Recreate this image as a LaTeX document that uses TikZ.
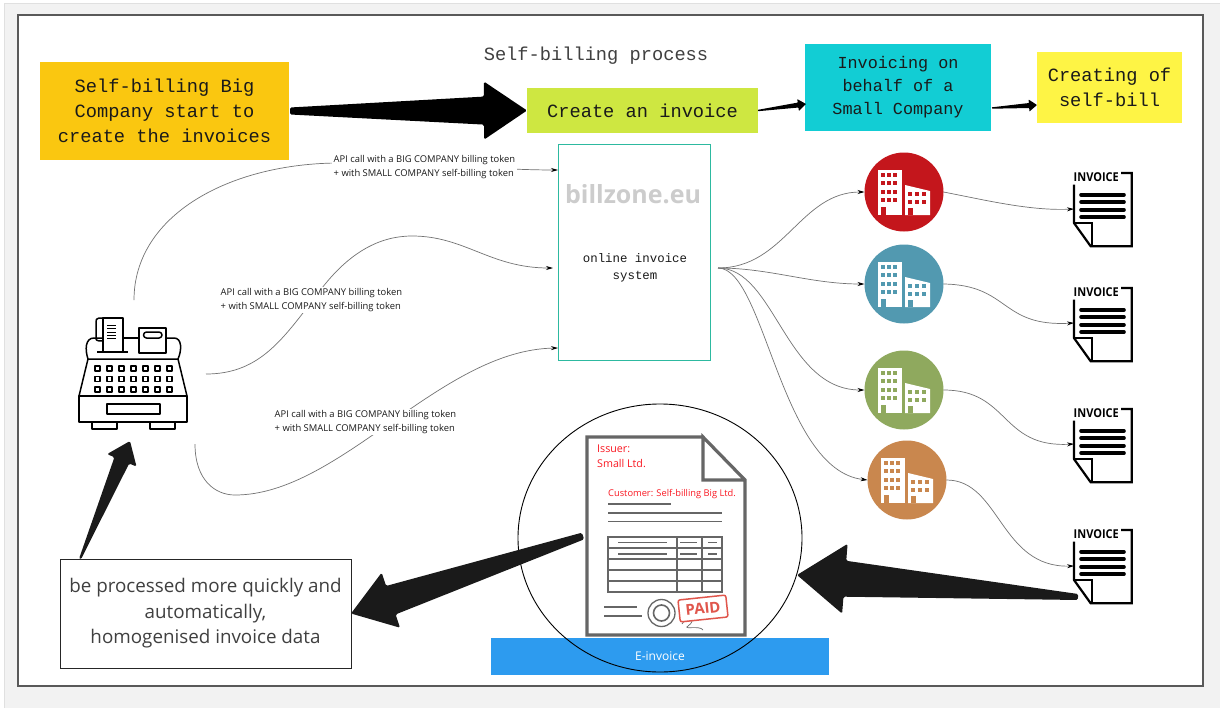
\documentclass[tikz,border=0pt]{standalone}
\usepackage{fontspec}
\setmainfont{Open Sans}
\setmonofont{Liberation Mono}
\usetikzlibrary{arrows.meta,calc,shapes.geometric}
\definecolor{inkc}{HTML}{1A1A1A}
\definecolor{docgray}{HTML}{666666}
\definecolor{stampred}{HTML}{E0564C}
\tikzset{
  x=1pt,y=-1pt,
  sticky/.style={rectangle,inner sep=0pt,outer sep=0pt,align=center,text=inkc,font=\ttfamily\fontsize{18.7}{25}\selectfont},
  conn/.style={draw=black!55,line width=0.7pt,-{Stealth[length=7pt,width=4pt,black]}},
  apilabel/.style={fill=white,inner sep=1.5pt,align=left,anchor=west,text=inkc,font=\fontsize{9.4}{14}\selectfont},
  docline/.style={draw=docgray,line width=1.6pt},
  ico/.style={draw=black,line width=1.5pt,line join=round},
  hidden/.style={rectangle,inner sep=0pt,outer sep=0pt},
}
\newcommand\taperarrow[7][black]{%
  \coordinate (ta) at #2; \coordinate (tb) at #3;
  \coordinate (tn) at ($(tb)!#7pt!(ta)$);
  \fill[rounded corners=1.5pt,#1] ($(ta)!#4pt!90:(tb)$) -- ($(tn)!#5pt!90:(tb)$) -- ($(tn)!#6pt!90:(tb)$) -- (tb) -- ($(tn)!#6pt!-90:(tb)$) -- ($(tn)!#5pt!-90:(tb)$) -- ($(ta)!#4pt!-90:(tb)$) -- cycle;}
\newcommand\company[4]{%
  \definecolor{bc#1}{HTML}{#4}
  \node[circle,fill=bc#1,minimum size=79pt,inner sep=0pt,outer sep=0pt] (#1) at (#2,#3) {};
  \begin{scope}[shift={(#2,#3)}]
    \fill[white] (-26,-22) rectangle (-2,23);
    \fill[white] (1,-7) -- (26,-1) -- (26,23) -- (1,23) -- cycle;
    \foreach \wx in {-23,-17,-11} \foreach \wy in {-19,-11,-2,6} \fill[bc#1] (\wx,\wy) rectangle ++(4,4);
    \foreach \wx in {4,11,18} \foreach \wy in {0,8} \fill[bc#1] (\wx,\wy) rectangle ++(4,4);
    \fill[bc#1] (-23,15) rectangle (-18,23);
    \fill[bc#1] (4,16) rectangle (9,23);
  \end{scope}}
\newcommand\invoicemark[3]{%
  \node[hidden,minimum width=60pt,minimum height=74pt,anchor=north west] (#1) at (#2,#3) {};
  \begin{scope}[shift={(#2,#3)}]
    \draw[black,line width=2.2pt,line join=miter] (47,0) -- (57.7,0) -- (57.7,73.3) -- (16.7,73.3) -- (0,50) -- (0,11.7);
    \draw[black,line width=2.2pt] (0,50) -- (17.7,50) -- (17.7,73.3);
    \foreach \ly in {21.7,29,36.7,44} \draw[black,line width=3.6pt,line cap=round] (7,\ly) -- (50,\ly);
    \node[inner sep=0pt,anchor=west,text=black,font=\bfseries\fontsize{12.2}{14}\selectfont,xscale=.9] at (-.5,4.5) {INVOICE};
  \end{scope}}
\begin{document}
\begin{tikzpicture}
\useasboundingbox (0,0) rectangle (1220,707);
\fill[white] (0,0) rectangle (1220,707);
\filldraw[fill=black!5,draw=black!12,line width=1pt] (4,3) rectangle (1224,712);
\filldraw[fill=white,draw=black!65,line width=1.2pt] (18,15) rectangle (1203,686);

% top row
\node[sticky,text=black!75,font=\ttfamily\fontsize{18.7}{25}\selectfont] (title) at (596,55.5) {Self-billing process};
\node[sticky,fill={rgb,255:red,250;green,199;blue,16},minimum width=249pt,minimum height=98pt] (start) at (164.5,111) {Self-billing Big\\Company start to\\create the invoices};
\node[sticky,fill={rgb,255:red,206;green,231;blue,65},minimum width=231pt,minimum height=45pt] (create) at (642.5,110.5) {Create an invoice};
\node[sticky,fill={rgb,255:red,18;green,205;blue,212},minimum width=186pt,minimum height=87pt,font=\ttfamily\fontsize{16.8}{23}\selectfont] (behalf) at (898,87.5) {Invoicing on\\behalf of a\\Small Company};
\node[sticky,fill={rgb,255:red,254;green,244;blue,69},minimum width=145pt,minimum height=71pt] (selfbill) at (1109.5,87.5) {Creating of\\self-bill};

% billing system
\node[hidden,draw={rgb,255:red,45;green,185;blue,160},line width=1pt,minimum width=152pt,minimum height=216pt] (bill) at (634,252) {};
\node[inner sep=0pt,text=black!20,font=\bfseries\fontsize{25}{28}\selectfont] (logo) at (633,194) {billzone.eu};
\node[inner sep=0pt,align=center,text=inkc,font=\ttfamily\fontsize{12.4}{17}\selectfont] (sys) at (635,268) {online invoice\\system};

% cash register
\node[hidden,minimum width=142pt,minimum height=140pt] (reg) at (135,374) {};
\begin{scope}[ico]
  \draw (79,396) rectangle (187,422);
  \draw (107,404) rectangle (160,414);
  \draw (92,422) rectangle (117,429);
  \draw (150,422) rectangle (175,429);
  \draw (79,396) -- (88,359) -- (178,359) -- (187,396);
  \draw (88,359) .. controls (85,350) and (85,338) .. (94,338) -- (103,338);
  \draw (123,338) -- (139,338);
  \draw (166,338) -- (174,338) .. controls (182,338) and (182,350) .. (178,359);
  \draw (103,352) -- (103,318) -- (123,318) -- (123,352);
  \draw (103,318) -- (99,318) .. controls (96,318) and (96,320) .. (96,323) -- (96,339) .. controls (96,341) and (100,341) .. (103,341);
  \draw (97,352) -- (128,352);
  \draw (139,328) rectangle (166,353);
  \draw[rounded corners=3pt] (143.5,332) rectangle (162,338);
  \foreach \ky in {325,328.5,332,335,338} \draw[line width=1pt] (107,\ky) -- (116,\ky);
  \foreach \kx in {95,107,119,131,143,155,167} \foreach \ky in {366,376.5,387}
    \draw[line width=1.3pt] (\kx,\ky) rectangle ++(5,5);
\end{scope}

% connectors register -> system
\draw[conn] ([xshift=-1pt,yshift=4pt]reg.north) .. controls (134,215) and (230,163) .. (340,163) .. controls (420,163) and (500,170) .. ([yshift=-26pt]bill.north west);
\draw[conn] (reg.east) .. controls (262,374) and (285,336) .. (322,288) .. controls (350,252) and (380,236) .. (412,236) .. controls (465,236) and (490,268) .. ([yshift=-124pt,xshift=-5pt]bill.north west);
\draw[conn] ([xshift=-11pt]reg.south east) .. controls (195,480) and (215,495) .. (235,495) .. controls (340,495) and (440,350) .. ([yshift=-204pt]bill.north west);
\node[apilabel] (api1) at (332,167.5) {API call with a BIG COMPANY billing token\\+ with SMALL COMPANY self-billing token};
\node[apilabel] (api2) at (219,300) {API call with a BIG COMPANY billing token\\+ with SMALL COMPANY self-billing token};
\node[apilabel] (api3) at (273,422) {API call with a BIG COMPANY billing token\\+ with SMALL COMPANY self-billing token};

% companies
\company{coa}{904}{192}{C4161C}
\company{cob}{904}{284}{5299B0}
\company{coc}{904}{390}{8FA95E}
\company{cod}{907}{480}{C9874E}

\invoicemark{inva}{1074}{173}
\invoicemark{invb}{1074}{288}
\invoicemark{invc}{1074}{409}
\invoicemark{invd}{1074}{530}

\coordinate (hub) at ([yshift=-124pt,xshift=8pt]bill.north east);
\draw[conn] (hub) .. controls (785,268) and (800,192) .. (coa.west);
\draw[conn] (hub) .. controls (770,268) and (810,284) .. (cob.west);
\draw[conn] (hub) .. controls (775,268) and (785,390) .. (coc.west);
\draw[conn] (hub) .. controls (765,268) and (780,470) .. (cod.west);
\draw[conn] (coa.east) .. controls (985,200) and (1030,211) .. ([yshift=1pt]inva.west);
\draw[conn] (cob.east) .. controls (1010,285) and (1000,327) .. ([yshift=2pt]invb.west);
\draw[conn] (coc.east) .. controls (1010,390) and (1000,448) .. ([yshift=2pt]invc.west);
\draw[conn] (cod.east) .. controls (1000,480) and (1000,568) .. ([yshift=1pt]invd.west);

% e-invoice
\node[hidden,fill={rgb,255:red,45;green,155;blue,239},minimum width=338pt,minimum height=37pt,text=white,font=\fontsize{12}{14}\selectfont] (bar) at (660,656.5) {E-invoice};
\node[ellipse,draw=black,line width=0.9pt,inner sep=0pt,outer sep=0pt,minimum width=284pt,minimum height=268pt] (circ) at (660,538) {};
\node[hidden,minimum width=158pt,minimum height=198pt] (doc) at (666,536) {};
\draw[docgray,line width=3.2pt,line join=miter] (703,437) -- (587,437) -- (587,635) -- (745,635) -- (745,480) -- (703,437) -- (703,480) -- (745,480);
\draw[docline] (608,504) -- (671,504);
\draw[docline] (608,513) -- (722,513);
\draw[docline] (608,521.5) -- (722,521.5);
\draw[docline] (608,537) rectangle (722,592);
\foreach \ty in {548,559,570,581} \draw[docline] (608,\ty) -- (722,\ty);
\foreach \tx in {677,702} \draw[docline] (\tx,537) -- (\tx,592);
\foreach \ty in {542.7,554} {
  \draw[docline,line width=1.2pt] (618,\ty) -- (667,\ty);
  \draw[docline,line width=1.2pt] (680,\ty) -- (697,\ty);
  \draw[docline,line width=1.2pt] (708,\ty) -- (717,\ty);
}
\draw[docline] (604,607) -- (637,607);
\draw[docline] (604,616) -- (642,616);
\draw[docgray,line width=1.3pt] (661.5,613) circle (13.5);
\draw[docgray,line width=1.6pt] (661.5,613) circle (8);
\draw[docgray,line width=0.7pt] (682,624) .. controls (690,612) and (697,620) .. (688,626) .. controls (682,630) and (700,625) .. (703,630);
\node[draw=stampred,line width=1.5pt,rounded corners=2pt,fill=white,text=stampred,inner sep=2pt,minimum width=48pt,minimum height=22pt,rotate=6,font=\bfseries\fontsize{15}{16}\selectfont] (paid) at (703,608.5) {PAID};
\node[inner sep=0pt,anchor=west,align=left,text={rgb,255:red,250;green,25;blue,35},font=\fontsize{10.7}{15}\selectfont] (issuer) at (597,456.5) {Issuer:\\Small Ltd.};
\node[inner sep=0pt,anchor=west,text={rgb,255:red,250;green,25;blue,35},font=\fontsize{9.3}{11}\selectfont] (cust) at (608,494.5) {Customer: Self-billing Big Ltd.};

% result box
\node[hidden,draw=black!85,line width=0.9pt,fill=white,minimum width=291pt,minimum height=109pt,align=center,text=black!75,font=\fontsize{18.8}{25.5}\selectfont] (result) at (205.5,613.5) {be processed more quickly and\\automatically,\\homogenised invoice data};

% big arrows
\taperarrow{([xshift=1pt]start.east)}{(create.west)}{3.5}{14}{29}{43}
\taperarrow[rounded corners=0.4pt]{(create.east)}{([yshift=-16.5pt,xshift=1pt]behalf.west)}{0.7}{2.5}{6}{8}
\taperarrow[rounded corners=0.4pt]{([yshift=-20.5pt,xshift=1pt]behalf.east)}{([yshift=-17.5pt]selfbill.west)}{0.7}{2.5}{6}{8}
\taperarrow[inkc]{([xshift=4pt,yshift=7pt]invd.south west)}{([xshift=-5pt,yshift=-37pt]circ.east)}{3}{18}{35}{48}
\taperarrow[inkc]{([xshift=-4pt]doc.west)}{(result.east)}{3.5}{15}{29}{42}
\taperarrow[inkc]{([xshift=20pt]result.north west)}{([xshift=-5pt,yshift=3pt]reg.south)}{1}{8}{16}{21}
\end{tikzpicture}
\end{document}
